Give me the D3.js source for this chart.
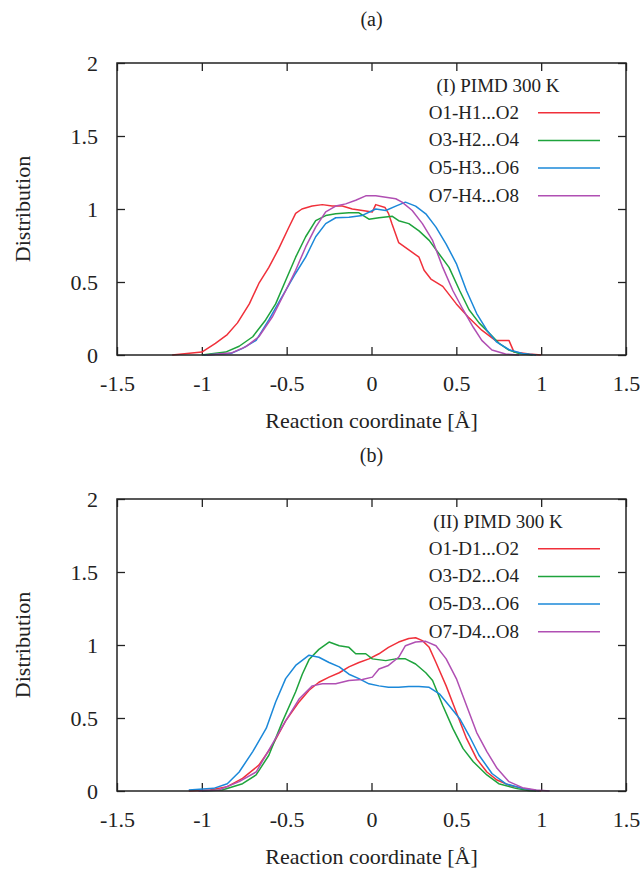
<!DOCTYPE html>
<html>
<head>
<meta charset="utf-8">
<script src="https://cdn.jsdelivr.net/npm/d3@7"></script>
<style>
  body { margin: 0; background: #fff; }
  svg { display: block; }
  text { font-family: "Liberation Serif", "DejaVu Serif", serif; fill: #222; }
</style>
</head>
<body>
<svg width="642" height="870"></svg>
<script>
// tick values shared by both panels
var xTicks = [-1.5, -1, -0.5, 0, 0.5, 1, 1.5];
var yTicks = [0, 0.5, 1, 1.5, 2];

var colours = ["#f0303a", "#1ea33c", "#1b88d9", "#b04fb3"];

// panel (a) : hydrogen, [x, distribution]
var titleA = "(I) PIMD 300 K";
var namesA = ["O1-H1...O2", "O3-H2...O4", "O5-H3...O6", "O7-H4...O8"];
var a_h1 = [[-1.175,0],[-1.0,0.02],[-0.92,0.08],[-0.85,0.14],[-0.79,0.22],[-0.72,0.35],[-0.664,0.49],[-0.605,0.6],[-0.546,0.73],[-0.487,0.875],[-0.447,0.97],[-0.41,1.0],[-0.35,1.02],[-0.29,1.03],[-0.232,1.02],[-0.172,1.02],[-0.113,1.0],[-0.054,0.99],[0.005,0.98],[0.025,1.03],[0.08,1.01],[0.1,0.97],[0.12,0.9],[0.16,0.77],[0.22,0.72],[0.28,0.67],[0.31,0.58],[0.35,0.52],[0.42,0.47],[0.5,0.35],[0.57,0.26],[0.65,0.17],[0.73,0.1],[0.81,0.1],[0.84,0.02],[0.93,0.007],[1.0,0]];
var a_h2 = [[-1.0,0],[-0.86,0.02],[-0.78,0.06],[-0.7,0.125],[-0.624,0.24],[-0.565,0.35],[-0.506,0.51],[-0.447,0.67],[-0.388,0.81],[-0.329,0.92],[-0.27,0.955],[-0.211,0.967],[-0.133,0.974],[-0.074,0.974],[-0.015,0.93],[0.044,0.94],[0.123,0.95],[0.16,0.92],[0.22,0.9],[0.28,0.85],[0.34,0.785],[0.4,0.69],[0.457,0.6],[0.52,0.44],[0.575,0.31],[0.634,0.22],[0.693,0.15],[0.752,0.08],[0.81,0.034],[0.87,0.01],[0.95,0]];
var a_h3 = [[-0.99,0],[-0.83,0.01],[-0.76,0.045],[-0.68,0.1],[-0.605,0.24],[-0.527,0.4],[-0.447,0.56],[-0.388,0.67],[-0.329,0.81],[-0.27,0.9],[-0.211,0.94],[-0.133,0.944],[-0.054,0.956],[0.025,1.0],[0.084,0.99],[0.143,1.02],[0.2,1.047],[0.26,1.02],[0.32,0.967],[0.38,0.876],[0.44,0.76],[0.5,0.626],[0.56,0.44],[0.62,0.284],[0.68,0.17],[0.736,0.09],[0.815,0.034],[0.89,0.01],[0.97,0]];
var a_h4 = [[-0.97,0],[-0.82,0.016],[-0.74,0.057],[-0.664,0.125],[-0.585,0.26],[-0.506,0.44],[-0.447,0.58],[-0.388,0.74],[-0.329,0.876],[-0.27,0.98],[-0.211,1.02],[-0.152,1.035],[-0.093,1.06],[-0.034,1.09],[0.025,1.09],[0.084,1.08],[0.143,1.07],[0.18,1.047],[0.24,0.99],[0.3,0.9],[0.36,0.785],[0.42,0.6],[0.48,0.44],[0.54,0.31],[0.6,0.19],[0.65,0.1],[0.71,0.034],[0.79,0.007],[0.87,0]];

// panel (b) : deuterium
var titleB = "(II) PIMD 300 K";
var namesB = ["O1-D1...O2", "O3-D2...O4", "O5-D3...O6", "O7-D4...O8"];
var b_d1 = [[-1.077,0],[-0.95,0.007],[-0.85,0.03],[-0.76,0.086],[-0.664,0.177],[-0.585,0.31],[-0.506,0.48],[-0.427,0.61],[-0.368,0.69],[-0.31,0.745],[-0.25,0.78],[-0.19,0.81],[-0.133,0.85],[-0.074,0.88],[-0.015,0.905],[0.044,0.94],[0.1,0.984],[0.16,1.02],[0.22,1.045],[0.26,1.05],[0.3,1.03],[0.34,0.984],[0.38,0.88],[0.44,0.72],[0.5,0.54],[0.56,0.36],[0.62,0.22],[0.68,0.13],[0.74,0.075],[0.81,0.04],[0.89,0.018],[0.97,0.002],[1.0,0]];
var b_d2 = [[-1.0,0],[-0.88,0.007],[-0.76,0.05],[-0.68,0.11],[-0.605,0.245],[-0.527,0.47],[-0.447,0.68],[-0.408,0.8],[-0.368,0.9],[-0.31,0.97],[-0.25,1.02],[-0.19,0.995],[-0.133,0.984],[-0.093,0.94],[-0.034,0.94],[0.005,0.905],[0.084,0.893],[0.143,0.905],[0.2,0.905],[0.26,0.87],[0.32,0.81],[0.36,0.757],[0.42,0.586],[0.48,0.427],[0.54,0.29],[0.6,0.2],[0.68,0.11],[0.75,0.05],[0.85,0.018],[0.93,0.002],[0.97,0]];
var b_d3 = [[-1.077,0.007],[-0.93,0.018],[-0.85,0.05],[-0.78,0.13],[-0.7,0.27],[-0.62,0.43],[-0.565,0.61],[-0.506,0.77],[-0.447,0.86],[-0.368,0.93],[-0.31,0.916],[-0.25,0.88],[-0.19,0.85],[-0.133,0.8],[-0.074,0.77],[-0.015,0.734],[0.044,0.72],[0.1,0.71],[0.16,0.71],[0.22,0.716],[0.28,0.716],[0.34,0.71],[0.4,0.666],[0.457,0.586],[0.52,0.495],[0.575,0.38],[0.634,0.245],[0.71,0.12],[0.79,0.05],[0.89,0.018],[0.99,0]];
var b_d4 = [[-1.02,0],[-0.9,0.007],[-0.78,0.064],[-0.68,0.13],[-0.6,0.29],[-0.506,0.48],[-0.427,0.63],[-0.349,0.72],[-0.29,0.734],[-0.211,0.734],[-0.133,0.757],[-0.054,0.764],[0.005,0.78],[0.044,0.836],[0.1,0.86],[0.16,0.916],[0.2,0.995],[0.26,1.02],[0.32,1.025],[0.38,0.995],[0.44,0.905],[0.5,0.77],[0.56,0.586],[0.62,0.4],[0.68,0.27],[0.74,0.155],[0.81,0.064],[0.89,0.023],[0.97,0.007],[1.05,0]];

var svg = d3.select("svg");

var left = 117, w = 509, h = 292;

var x = d3.scaleLinear().domain([-1.5, 1.5]).range([0, w]);
var y = d3.scaleLinear().domain([0, 2]).range([h, 0]);

var line = d3.line()
    .x(function(d) { return x(d[0]); })
    .y(function(d) { return y(d[1]); });

// plain hyphen minus like gnuplot does
function fmt(d) { return String(d); }

function drawPanel(top, label, title, names, series) {
    var g = svg.append("g").attr("transform", "translate(" + left + "," + top + ")");

    // panel label (a)/(b)
    g.append("text")
        .attr("x", x(0)).attr("y", -37)
        .attr("text-anchor", "middle")
        .style("font-size", "20px")
        .text(label);

    // axes, ticks inward
    var bottom = g.append("g").attr("transform", "translate(0," + h + ")")
        .call(d3.axisBottom(x).tickValues(xTicks).tickSize(-8).tickPadding(20).tickFormat(fmt));
    var topAx = g.append("g")
        .call(d3.axisTop(x).tickValues(xTicks).tickSize(-8).tickFormat(""));
    var leftAx = g.append("g")
        .call(d3.axisLeft(y).tickValues(yTicks).tickSize(-8).tickPadding(19).tickFormat(fmt));
    var rightAx = g.append("g").attr("transform", "translate(" + w + ",0)")
        .call(d3.axisRight(y).tickValues(yTicks).tickSize(-8).tickFormat(""));

    [bottom, topAx, leftAx, rightAx].forEach(function(a) {
        a.select(".domain").remove();
        a.selectAll("line").attr("stroke", "#222").attr("stroke-width", 1.3);
        a.selectAll("text").style("font-size", "22px").attr("fill", "#222")
            .style("font-family", "'Liberation Serif', serif");
    });

    // curves
    g.append("g").attr("class", "curves")
        .selectAll("path")
        .data(series)
        .enter().append("path")
        .attr("d", line)
        .attr("fill", "none")
        .attr("stroke", function(d, i) { return colours[i]; })
        .attr("stroke-width", 1.5)
        .attr("stroke-linejoin", "round");

    // frame
    g.append("rect")
        .attr("width", w).attr("height", h)
        .attr("fill", "none")
        .attr("stroke", "#222")
        .attr("stroke-width", 1.5);

    // legend
    var leg = g.append("g").attr("class", "legend");
    leg.append("text")
        .attr("x", 381).attr("y", 29)
        .attr("text-anchor", "middle")
        .style("font-size", "19px")
        .text(title);
    var item = leg.selectAll("g.item")
        .data(names)
        .enter().append("g")
        .attr("class", "item")
        .attr("transform", function(d, i) { return "translate(0," + (49.7 + i * 27.7) + ")"; });
    item.append("text")
        .attr("x", 402).attr("y", 6)
        .attr("text-anchor", "end")
        .style("font-size", "19px")
        .text(function(d) { return d; });
    item.append("line")
        .attr("x1", 421).attr("x2", 483)
        .attr("stroke", function(d, i) { return colours[i]; })
        .attr("stroke-width", 1.5);

    // axis titles
    g.append("text")
        .attr("transform", "translate(-95," + (h / 2) + ") rotate(-90)")
        .attr("text-anchor", "middle")
        .attr("dy", "0.35em")
        .style("font-size", "22px")
        .text("Distribution");
    g.append("text")
        .attr("x", x(0)).attr("y", h + 73)
        .attr("text-anchor", "middle")
        .style("font-size", "22px")
        .text("Reaction coordinate [Å]");
}

drawPanel(63, "(a)", titleA, namesA, [a_h1, a_h2, a_h3, a_h4]);
drawPanel(499, "(b)", titleB, namesB, [b_d1, b_d2, b_d3, b_d4]);
</script>
</body>
</html>
